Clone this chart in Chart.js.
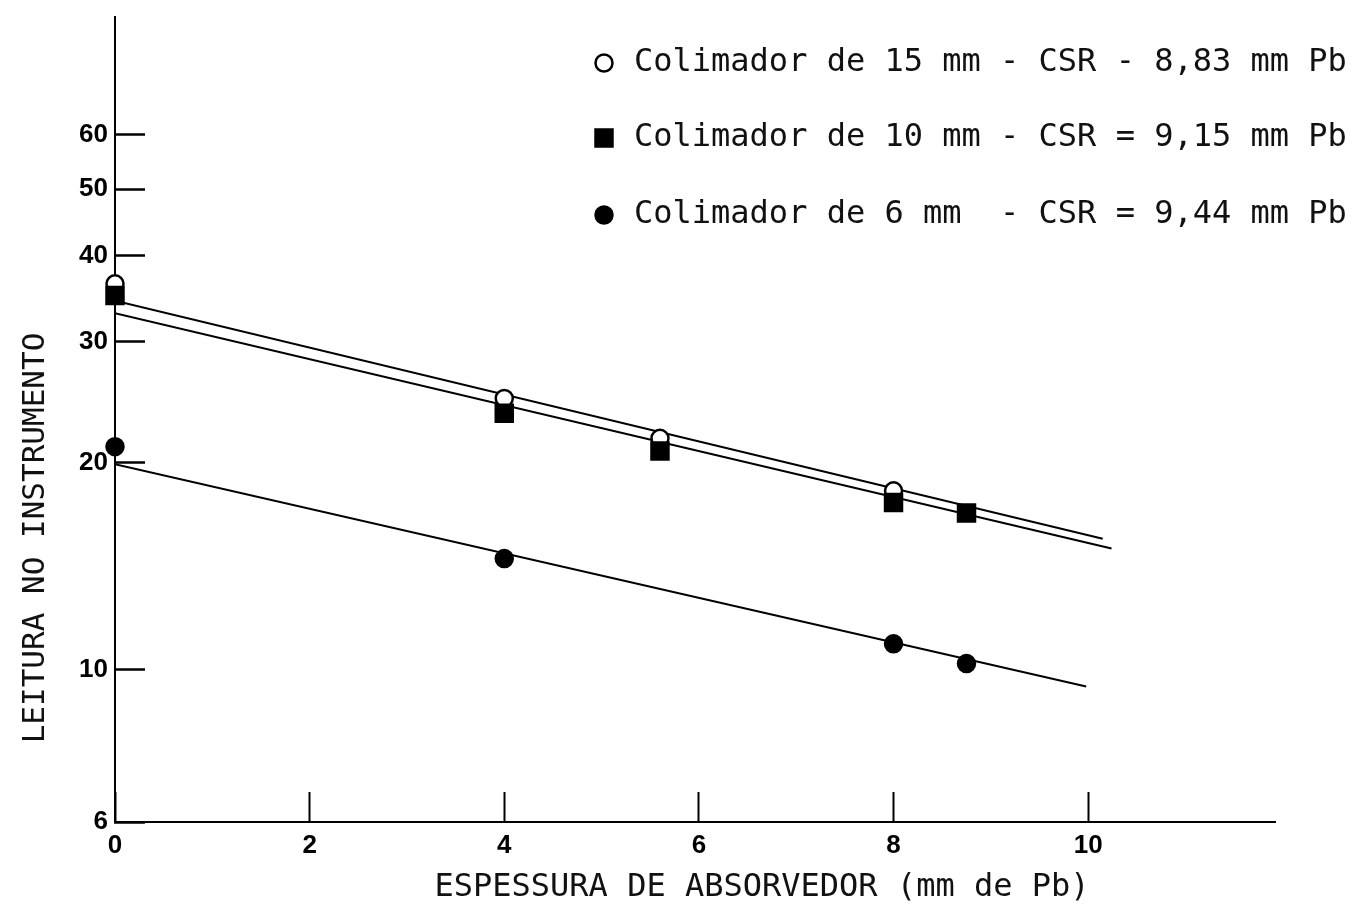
<!DOCTYPE html>
<html>
<head>
<meta charset="utf-8">
<script src="https://cdn.jsdelivr.net/npm/chart.js@4.4.0/dist/chart.umd.min.js"></script>
<style>
  body { margin: 0; background: #fff; }
</style>
</head>
<body>
<canvas id="chart" width="1354" height="909"></canvas>
<script>
// ---- Measured readings (x = mm Pb, y = instrument reading) ----
const xCol15 = [0, 4, 5.6, 8];
const yCol15 = [36.4, 24.8, 21.7, 18.2];
const xCol10 = [0, 4, 5.6, 8, 8.75];
const yCol10 = [35.0, 23.6, 20.8, 17.5, 16.9];
const xCol6 = [0, 4, 8, 8.75];
const yCol6 = [21.1, 14.5, 10.9, 10.2];

// ---- Fitted lines (two end points each) ----
const fitX15 = [0, 10.15];
const fitY15 = [34.4, 15.5];
const fitX10 = [0, 10.24];
const fitY10 = [33.0, 15.0];
const fitX6 = [0, 9.98];
const fitY6 = [19.9, 9.45];

// ---- Axis ticks ----
const xTicks = [0, 2, 4, 6, 8, 10];
const yTicks = [6, 10, 20, 30, 40, 50, 60];

const legendLabels = [
  "Colimador de 15 mm - CSR - 8,83 mm Pb",
  "Colimador de 10 mm - CSR = 9,15 mm Pb",
  "Colimador de 6 mm  - CSR = 9,44 mm Pb"
];
const xTitle = "ESPESSURA DE ABSORVEDOR (mm de Pb)";
const yTitle = "LEITURA NO INSTRUMENTO";

const toPoints = (xs, ys) => xs.map((x, i) => ({ x: x, y: ys[i] }));

const pointSets = [
  { label: legendLabels[0], data: toPoints(xCol15, yCol15), pointStyle: 'circle', radius: 8.5, bg: '#fff', order: 2 },
  { label: legendLabels[1], data: toPoints(xCol10, yCol10), pointStyle: 'rect', radius: 12, bg: '#000', order: 1 },
  { label: legendLabels[2], data: toPoints(xCol6, yCol6), pointStyle: 'circle', radius: 8.5, bg: '#000', order: 3 }
];

const fitLine = (xs, ys) => ({
  type: 'line',
  data: toPoints(xs, ys),
  borderColor: '#000',
  borderWidth: 2,
  pointRadius: 0,
  fill: false,
  order: 10
});

// legend and axis titles drawn like the typed labels of the original figure
const paperText = {
  id: 'paperText',
  afterDraw(chart) {
    const ctx = chart.ctx;
    const rows = [63, 138, 215];
    ctx.save();
    pointSets.forEach((s, i) => {
      ctx.fillStyle = s.bg;
      ctx.strokeStyle = '#000';
      ctx.lineWidth = 2.5;
      Chart.helpers.drawPoint(ctx, { pointStyle: s.pointStyle, radius: s.radius, borderWidth: 2.5, rotation: 0 }, 604, rows[i]);
      ctx.fillStyle = '#111';
      ctx.font = '32px "DejaVu Sans Mono"';
      ctx.textBaseline = 'middle';
      ctx.textAlign = 'left';
      ctx.fillText(s.label, 634, rows[i]);
    });

    ctx.font = '32px "DejaVu Sans Mono"';
    ctx.textAlign = 'center';
    ctx.fillText(xTitle, 762, 888);

    ctx.font = '31px "DejaVu Sans Mono"';
    ctx.translate(36, 538);
    ctx.rotate(-Math.PI / 2);
    ctx.fillText(yTitle, 0, 0);
    ctx.restore();
  }
};

const tickFont = { family: 'Liberation Sans', size: 26, weight: 'bold' };

new Chart(document.getElementById('chart'), {
  type: 'scatter',
  data: {
    datasets: pointSets.map(s => ({
      label: s.label,
      data: s.data,
      pointStyle: s.pointStyle,
      pointRadius: s.radius,
      pointBackgroundColor: s.bg,
      pointBorderColor: '#000',
      pointBorderWidth: 2.5,
      order: s.order,
      clip: false
    })).concat([
      fitLine(fitX15, fitY15),
      fitLine(fitX10, fitY10),
      fitLine(fitX6, fitY6)
    ])
  },
  options: {
    responsive: false,
    animation: false,
    layout: { padding: { top: 17, right: 79, left: 0, bottom: 0 } },
    plugins: {
      legend: { display: false },
      tooltip: { enabled: false }
    },
    scales: {
      x: {
        type: 'linear',
        min: 0,
        max: 11.92,
        afterBuildTicks: s => { s.ticks = xTicks.map(v => ({ value: v })); },
        afterFit: s => { s.height = 87; s.paddingLeft = 0; s.paddingRight = 0; },
        grid: { drawOnChartArea: false, tickLength: -30, tickWidth: 2, tickColor: '#000' },
        border: { color: '#000', width: 2 },
        ticks: { padding: 38, color: '#000', font: tickFont, maxRotation: 0, autoSkip: false }
      },
      y: {
        type: 'logarithmic',
        min: 6,
        max: 89,
        afterBuildTicks: s => { s.ticks = yTicks.map(v => ({ value: v })); },
        afterFit: s => { s.width = 115; s.paddingTop = 0; s.paddingBottom = 0; },
        grid: { drawOnChartArea: false, tickLength: -30, tickWidth: 2.5, tickColor: '#000' },
        border: { color: '#000', width: 2 },
        ticks: { padding: 37, color: '#000', font: tickFont, autoSkip: false, callback: v => String(v) }
      }
    }
  },
  plugins: [paperText]
});
</script>
</body>
</html>
